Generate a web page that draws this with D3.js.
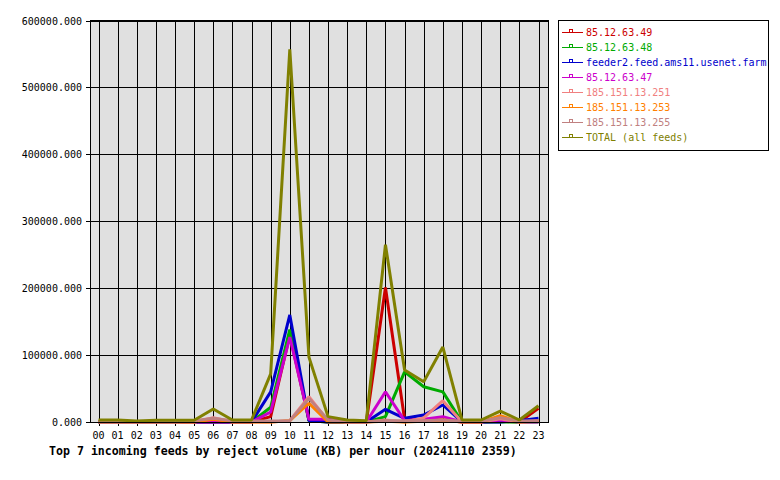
<!DOCTYPE html>
<html>
<head>
<meta charset="utf-8">
<script src="https://cdn.jsdelivr.net/npm/d3@7"></script>
<style>
  body { margin: 0; background: #fff; }
  text { font-family: "DejaVu Sans Mono", monospace; }
</style>
</head>
<body>
<div id="graph"></div>
<script>

var hours = ["00","01","02","03","04","05","06","07","08","09","10","11",
             "12","13","14","15","16","17","18","19","20","21","22","23"];

var yTicks = [0, 100000, 200000, 300000, 400000, 500000, 600000];

var feedNames = ["85.12.63.49", "85.12.63.48", "feeder2.feed.ams11.usenet.farm",
                 "85.12.63.47", "185.151.13.251", "185.151.13.253", "185.151.13.255",
                 "TOTAL (all feeds)"];

var feedColors = ["#cc0000", "#00aa00", "#0000cc", "#cc00cc",
                  "#f08080", "#ff8000", "#c08080", "#808000"];

// KB per hour
var feed49  = [0,0,0,0,0,0,0,0,0,8000,130000,3000,0,0,0,201000,4000,2000,3000,0,0,1000,0,20400];
var feed48  = [0,0,0,0,0,0,0,0,0,22000,138000,2000,0,0,0,8000,75000,52700,45000,0,0,0,0,0];
var feeder2 = [0,0,0,0,0,0,0,0,0,45000,160000,2000,0,0,0,19000,5500,10400,25400,0,0,0,2000,5500];
var feed47  = [0,0,0,0,0,0,0,0,0,15000,127000,4000,4000,0,0,45200,2000,4000,8000,0,0,3000,0,0];
var feed251 = [0,0,0,0,0,0,6500,0,0,0,2000,37800,2000,0,0,3000,0,6000,31800,0,0,5000,0,2000];
var feed253 = [0,0,0,0,0,0,4000,0,0,0,2000,28000,0,0,0,1000,0,1000,3000,0,0,9400,0,1000];
var feed255 = [0,0,0,0,0,2000,5500,2000,1500,1500,2000,35000,3000,0,0,2000,2000,2000,3000,1000,1000,6400,1500,2000];
var total   = [3000,3000,1500,2500,2500,2500,19400,3000,3000,72000,557000,97000,8000,3000,2000,265000,77600,60200,112000,3000,3000,16400,3000,24300];

var series = [feed49, feed48, feeder2, feed47, feed251, feed253, feed255, total];

var width = 780, height = 480;
var plot = {left: 90, right: 548, top: 20.5, bottom: 422};

var svg = d3.select("#graph").append("svg")
    .attr("width", width)
    .attr("height", height);

var x = d3.scalePoint().domain(hours).range([98.5, 538.5]);
var y = d3.scaleLinear().domain([0, 600000]).range([plot.bottom, plot.top]);

// plot background
svg.append("rect")
    .attr("x", plot.left).attr("y", plot.top)
    .attr("width", plot.right - plot.left).attr("height", plot.bottom - plot.top)
    .attr("fill", "#e0e0e0");

// grid
var grid = svg.append("g").attr("shape-rendering", "crispEdges");
grid.selectAll(".vgrid").data(hours)
    .enter().append("line")
    .attr("x1", function(d){ return Math.round(x(d)) + 0.5; })
    .attr("x2", function(d){ return Math.round(x(d)) + 0.5; })
    .attr("y1", plot.top).attr("y2", plot.bottom + 4)
    .attr("stroke", "#000");
grid.selectAll(".hgrid").data(yTicks)
    .enter().append("line")
    .attr("x1", plot.left - 4).attr("x2", plot.right)
    .attr("y1", function(d){ return Math.round(y(d)) + 0.5; })
    .attr("y2", function(d){ return Math.round(y(d)) + 0.5; })
    .attr("stroke", "#000");

// lines
var line = d3.line()
    .x(function(d, i){ return x(hours[i]); })
    .y(function(d){ return y(d); });

svg.append("g").selectAll("path").data(series)
    .enter().append("path")
    .attr("d", line)
    .attr("fill", "none")
    .attr("stroke", function(d, i){ return feedColors[i]; })
    .attr("stroke-width", 3)
    .attr("stroke-linejoin", "bevel");

// border
svg.append("rect")
    .attr("x", plot.left + 0.5).attr("y", plot.top)
    .attr("width", plot.right - plot.left).attr("height", plot.bottom - plot.top + 0.5)
    .attr("fill", "none").attr("stroke", "#000")
    .attr("shape-rendering", "crispEdges");

// y labels
svg.append("g").selectAll("text").data(yTicks)
    .enter().append("text")
    .attr("x", 82).attr("y", function(d){ return y(d) + 4; })
    .attr("text-anchor", "end")
    .attr("font-size", "10px")
    .text(function(d){ return d3.format(".3f")(d); });

// x labels
svg.append("g").selectAll("text").data(hours)
    .enter().append("text")
    .attr("x", function(d){ return x(d); }).attr("y", 438.5)
    .attr("text-anchor", "middle")
    .attr("font-size", "10px")
    .text(function(d){ return d; });

svg.append("text")
    .attr("x", 49).attr("y", 455)
    .attr("font-size", "11.6px").attr("font-weight", "bold")
    .text("Top 7 incoming feeds by reject volume (KB) per hour (20241110 2359)");

// legend
var legend = svg.append("g");
legend.append("rect")
    .attr("x", 558.5).attr("y", 20.5)
    .attr("width", 210).attr("height", 130)
    .attr("fill", "#fff").attr("stroke", "#000")
    .attr("shape-rendering", "crispEdges");

var items = legend.selectAll(".item").data(feedNames)
    .enter().append("g")
    .attr("transform", function(d, i){ return "translate(0," + (32.5 + i * 15) + ")"; });
items.append("line")
    .attr("x1", 562).attr("x2", 583).attr("y1", 0).attr("y2", 0)
    .attr("stroke", function(d, i){ return feedColors[i]; })
    .attr("shape-rendering", "crispEdges");
items.append("rect")
    .attr("x", 569.5).attr("y", -3).attr("width", 3).attr("height", 3)
    .attr("fill", "#fff")
    .attr("stroke", function(d, i){ return feedColors[i]; })
    .attr("shape-rendering", "crispEdges");
items.append("text")
    .attr("x", 586).attr("y", 3.5)
    .attr("font-size", "10px")
    .attr("fill", function(d, i){ return feedColors[i]; })
    .text(function(d){ return d; });

</script>
</body>
</html>
